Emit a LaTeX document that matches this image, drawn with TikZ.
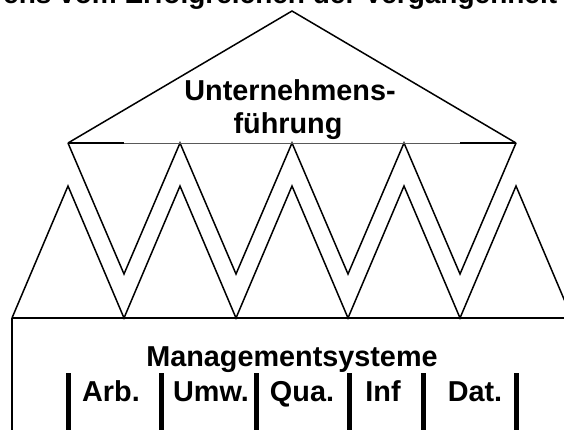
\documentclass[tikz,border=0pt]{standalone}
\usepackage{fontspec}
\setmainfont{Liberation Sans}
\begin{document}
\begin{tikzpicture}[x=1pt,y=-1pt,
  lbl/.style={font=\fontsize{28.8}{32}\selectfont\bfseries, inner sep=0pt, anchor=base},
  headlbl/.style={font=\fontsize{28}{32}\selectfont\bfseries, inner sep=0pt, anchor=base west},
  ln/.style={line width=1.5pt, black},
  thickln/.style={line width=2.6pt, black},
  thinln/.style={line width=0.7pt, black!65},
  barln/.style={line width=5pt, black}]
\useasboundingbox (0,0) rectangle (564,429);
\clip (0,0) rectangle (564,429);
\fill[white] (0,0) rectangle (564,429);
% heading, cut off at the top as in the reference
\node[headlbl] (head) at (3,3) {ens vom Erfolgreichen der Vergangenheit};
% coordinates
\coordinate (apex) at (292,11);
\foreach \i/\x in {0/68,1/180,2/292,3/404,4/516} {
  \coordinate (tp\i) at (\x,143);
  \coordinate (lp\i) at (\x,186);
}
\foreach \i/\x in {1/124,2/236,3/348,4/460} {
  \coordinate (tv\i) at (\x,274);
  \coordinate (lv\i) at (\x,318);
}
\coordinate (lv0) at (12,318);
\coordinate (lv5) at (572,318);
\coordinate (boxr) at (590,318);
\coordinate (boxb) at (12,445);
% top triangle
\draw[ln] (tp0) -- (apex) -- (tp4);
\draw[ln] (tp0) -- (tv1) -- (tp1) -- (tv2) -- (tp2) -- (tv3) -- (tp3) -- (tv4) -- (tp4);
\draw[thinln] (124,143) -- (460,143);
\draw[ln] (tp0) -- (124,143);
\draw[ln] (460,143) -- (tp4);
% lower zigzag
\draw[ln] (lv0) -- (lp0) -- (lv1) -- (lp1) -- (lv2) -- (lp2) -- (lv3) -- (lp3) -- (lv4) -- (lp4) -- (lv5);
% box
\draw[thickln] (lv0) -- (boxr);
\draw[ln] (lv0) -- (boxb);
% bars
\foreach \i/\x in {1/68,2/161,3/256,4/349,5/423,6/516} {
  \coordinate (bt\i) at (\x,373);
  \coordinate (bb\i) at (\x,440);
  \draw[barln] (bt\i) -- (bb\i);
}
% texts
\node[lbl] (unt) at (290,100) {Unternehmens-};
\node[lbl] (fue) at (288,133) {führung};
\node[lbl] (mgmt) at (292,366) {Managementsysteme};
\node[lbl] (arb) at (111,401) {Arb.};
\node[lbl] (umw) at (211,401) {Umw.};
\node[lbl] (qua) at (302,401) {Qua.};
\node[lbl] (inf) at (383,401) {Inf};
\node[lbl] (dat) at (475,401) {Dat.};
\end{tikzpicture}
\end{document}
